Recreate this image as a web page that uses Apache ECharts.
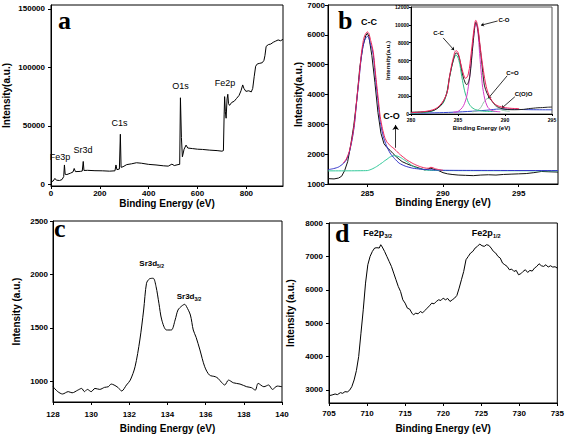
<!DOCTYPE html>
<html><head><meta charset="utf-8">
<script src="https://cdn.jsdelivr.net/npm/echarts@6/dist/echarts.min.js"></script>
<style>html,body{margin:0;padding:0;background:#fff}#c{width:567px;height:436px}</style>
</head><body><div id="c"></div>
<script>
// ---------- Panel a: survey ----------
const surveyE = [0,8,16,22,35,45,52,55,58,65,80,90,95,100,120,128,132,135,150,180,210,240,262,266,270,280,284,287,295,310,330,350,370,400,430,460,480,495,505,520,527,530,534,538,545,553,560,580,600,620,650,680,700,706,709,711,714,717,721,724,727,731,740,750,760,770,778,785,790,798,810,820,826,832,838,845,855,865,872,876,881,890,900,910,920,930,940,950];
const surveyI = [2200,2600,5000,3500,3200,4000,6500,16500,8500,8300,9500,10500,13500,10800,11000,11300,19500,11800,11900,11600,11500,11200,11500,16500,12500,13000,42800,14500,15000,16800,17500,18400,18000,17000,16500,15800,15500,17200,16000,16800,17000,74000,40000,23500,30000,33500,31000,30500,30000,29800,29200,28800,28300,28800,60000,75000,62000,56500,73000,77000,69000,67500,70000,71000,73500,76000,80000,85000,82000,79500,80000,79000,82000,92000,101000,103000,103500,104000,106000,110000,118000,119500,120000,121500,122500,123500,122800,124000];
const aXTicks = [0,200,400,600,800];
const aYTicks = [0,50000,100000,150000];

// ---------- Panel b: C1s ----------
const bRawE = [282.4,282.8,283.1,283.3,283.5,283.7,283.9,284.1,284.3,284.5,284.7,284.9,285.0,285.1,285.3,285.5,285.7,285.9,286.1,286.3,286.5,286.7,286.9,287.1,287.3,287.6,287.9,288.2,288.5,288.8,289.0,289.2,289.4,289.7,290.0,290.3,290.6,291,291.5,292,292.5,293,293.5,294,294.5,295,295.5,296,296.5,297,297.6];
const bRawI = [1180,1170,1200,1260,1450,1750,2300,2950,3800,4900,5600,5980,6050,5950,5300,4400,3400,2700,2350,2220,2130,2020,1920,1830,1750,1680,1620,1570,1520,1470,1500,1530,1490,1450,1380,1340,1320,1300,1290,1280,1300,1310,1300,1320,1330,1340,1350,1380,1420,1410,1400];
const bCCE = [282.4,282.8,283.1,283.4,283.6,283.8,284.0,284.15,284.3,284.45,284.6,284.75,284.85,285.0,285.1,285.2,285.3,285.4,285.55,285.7,285.85,286.05,286.25,286.5,286.8,287.1,287.5,288,288.5,289,290,292,297.6];
const bCCI = [1480,1520,1570,1680,1800,2050,2500,3000,3800,4500,5250,5700,5850,5950,5900,5700,5550,5300,4500,3800,3100,2600,2300,2040,1850,1700,1600,1530,1500,1480,1460,1455,1450];
const bCOE = [282.4,285,285.3,285.6,285.8,286.0,286.15,286.3,286.45,286.6,286.8,286.95,287.1,287.25,287.4,287.55,287.7,287.85,288.0,288.25,288.5,289,290,297.6];
const bCOI = [1440,1450,1500,1580,1650,1720,1780,1830,1890,1930,1950,1940,1910,1870,1820,1770,1720,1660,1600,1540,1500,1460,1450,1440];
const bSumE = [283.4,283.6,283.8,284.0,284.15,284.3,284.45,284.6,284.75,284.85,285.0,285.1,285.2,285.3,285.4,285.55,285.7,285.85,286.0,286.15,286.3,286.45,286.6,286.75,286.9,287.05,287.2,287.4,287.6,287.8,288.0,288.25,288.5,288.7,288.9,289.05,289.2,289.35,289.5,289.75,290];
const bSumI = [1700,1830,2080,2550,3050,3850,4550,5350,5850,6000,6100,6050,5850,5650,5400,4650,3950,3250,2850,2560,2400,2320,2250,2190,2120,2040,1970,1890,1810,1750,1690,1630,1580,1550,1530,1530,1560,1540,1510,1480,1460];
const bXTicks = [285,290,295];
const bYTicks = [1000,2000,3000,4000,5000,6000,7000];

// ---------- Panel b inset ----------
const iRawE = [280,281,281.8,282.5,283.2,283.8,284.1,284.5,284.8,285.0,285.2,285.5,285.8,285.95,286.25,286.6,286.9,287.1,287.5,287.8,288.1,288.4,288.8,289.2,289.7,290.3,291,292,292.5,293,293.5,294,294.5,295];
const iRawI = [200,230,270,450,1000,2310,4170,6040,6850,6700,6040,4360,3400,3300,4170,7900,10300,9600,6040,3240,2300,1750,1200,820,600,500,480,520,600,650,700,720,760,780];
const iSumE = [280,282,283,283.8,284.1,284.5,284.8,285.0,285.3,285.6,285.8,286.1,286.4,286.7,286.9,287.1,287.4,287.7,288.0,288.3,288.6,289,289.6,290.5,291.5];
const iSumI = [150,380,900,2300,4200,6300,7100,6900,5600,4400,4000,4500,6800,9500,10500,9800,7200,4900,3100,2100,1500,1050,800,650,600];
const iCCE = [280,282,283,283.6,284.1,284.5,284.8,285.1,285.4,285.7,285.9,286.2,286.6,287.2,288,289];
const iCCI = [100,250,800,1600,4100,6000,6600,6000,4200,2600,1900,1100,640,400,300,280];
const iCOE = [284.5,285.1,285.7,286.1,286.4,286.7,286.9,287.1,287.3,287.5,287.7,288.1,288.6,289.5];
const iCOI = [200,350,1200,3050,5800,9000,10140,9300,6800,4300,2500,900,400,250];
const iCdOE = [286.5,287.0,287.4,287.8,288.2,288.6,289.0,289.5,290.5];
const iCdOI = [250,350,700,1400,1750,1500,900,500,300];
const iCOOE = [280,282,284,286,288,289.5,291,293,295];
const iCOOI = [80,120,180,280,420,560,520,480,470];
const iXTicks = [280,285,290,295];
const iYTicks = [0,2000,4000,6000,8000,10000,12000];

// ---------- Panel c: Sr3d ----------
const cE = [128,128.25,128.5,128.8,129.0,129.3,129.5,129.65,129.8,130.0,130.2,130.45,130.7,130.9,131.05,131.2,131.4,131.6,131.85,132.05,132.3,132.55,132.75,132.9,133.05,133.25,133.4,133.55,133.7,133.95,134.2,134.4,134.55,134.75,134.9,135.0,135.2,135.35,135.5,135.7,135.95,136.2,136.5,136.65,136.85,137.0,137.2,137.45,137.8,138.15,138.4,138.6,138.75,139.05,139.3,139.5,139.75,140.0];
const cI = [949,903,881,903,892,917,933,903,924,903,933,924,943,949,974,965,943,909,965,1011,1136,1386,1667,1917,1958,1964,1886,1730,1574,1480,1480,1574,1667,1705,1720,1698,1620,1480,1411,1293,1136,1058,1043,1027,986,965,1011,986,974,949,940,917,980,949,965,924,955,949];
const cXTicks = [128,130,132,134,136,138,140];
const cYTicks = [1000,1500,2000,2500];

// ---------- Panel d: Fe2p ----------
const dE = [705,705.4,705.8,706.1,706.5,706.8,707.1,707.4,707.7,708.0,708.3,708.6,708.9,709.2,709.5,709.8,710.1,710.4,710.7,711.0,711.3,711.6,711.8,712.0,712.3,712.6,712.9,713.2,713.5,713.8,714.1,714.4,714.7,715.0,715.3,715.6,715.9,716.1,716.4,716.7,717.0,717.3,717.6,717.9,718.2,718.5,718.8,719.1,719.4,719.7,720.0,720.3,720.6,720.9,721.2,721.5,721.8,722.1,722.4,722.7,723.0,723.3,723.6,723.9,724.2,724.5,724.8,725.1,725.4,725.7,726.0,726.3,726.6,726.9,727.2,727.5,727.8,728.1,728.4,728.7,729.0,729.3,729.6,729.9,730.2,730.5,730.8,731.1,731.4,731.7,732.0,732.3,732.6,732.9,733.2,733.5,733.8,734.1,734.4,734.7,735.0];
const dI = [2830,2850,2880,2860,2920,2900,2950,2940,2990,3100,3300,3580,4000,4700,5400,6200,6750,7000,7150,7250,7260,7250,7350,7280,7150,7000,6850,6700,6500,6300,6100,5950,5700,5600,5450,5420,5300,5250,5300,5280,5350,5310,5380,5450,5520,5600,5580,5650,5700,5680,5750,5700,5740,5650,5700,5750,5830,6050,6300,6550,6900,7000,7100,7150,7250,7300,7370,7320,7300,7350,7330,7250,7150,7100,7000,6950,6800,6750,6700,6600,6620,6550,6580,6450,6480,6550,6600,6520,6580,6560,6650,6700,6780,6720,6700,6750,6680,6720,6680,6690,6650];
const dXTicks = [705,710,715,720,725,730,735];
const dYTicks = [3000,4000,5000,6000,7000,8000];

// ---------------------------------------------------
const zip = (a, b) => a.map((v, i) => [v, b[i]]);
const FONT = '"Liberation Sans", Arial, sans-serif';
const SERIF = '"Liberation Serif", "Times New Roman", serif';

function axis(o) {
  return {
    type: 'value', gridIndex: o.g, min: o.min, max: o.max,
    axisLine: { show: true, onZero: false, lineStyle: { color: '#000', width: 1 } },
    axisTick: { show: true, inside: false, length: o.tl || 3, customValues: o.ticks, lineStyle: { color: '#000' } },
    axisLabel: { customValues: o.ticks, formatter: v => String(v), fontSize: o.fs || 8, fontWeight: 'bold', color: '#000', fontFamily: FONT, margin: o.margin || 4 },
    splitLine: { show: false },
    name: o.name, nameLocation: 'middle', nameGap: o.gap,
    nameTextStyle: { fontSize: o.nfs || 10, fontWeight: 'bold', color: '#000', fontFamily: FONT }
  };
}
function line(xi, data, color, extra) {
  return Object.assign({
    type: 'line', xAxisIndex: xi, yAxisIndex: xi, data: data, symbol: 'none', showSymbol: false,
    lineStyle: { color: color, width: 1 }, itemStyle: { color: color }, silent: true
  }, extra || {});
}
function arrow(coords, size) {
  return {
    silent: true, symbol: ['none', 'arrow'], symbolSize: size || 5, animation: false,
    lineStyle: { color: '#000', width: 0.8, type: 'solid' }, label: { show: false },
    emphasis: { disabled: true },
    data: coords.map(c => [{ coord: c[0] }, { coord: c[1] }])
  };
}
function txt(s, x, y, size, weight, family, align) {
  return { type: 'text', silent: true, z: 50, style: { text: s, x: x, y: y, font: (weight || 'normal') + ' ' + size + 'px ' + (family || FONT), fill: '#000', textAlign: align || 'left', textVerticalAlign: 'middle' } };
}

const chart = echarts.init(document.getElementById('c'), null, { renderer: 'svg' });
chart.setOption({
  animation: false,
  backgroundColor: '#fff',
  grid: [
    { left: 51, top: 5, width: 232, height: 181, show: true, borderColor: '#000', borderWidth: 1 },
    { left: 328, top: 5, width: 230, height: 179, show: true, borderColor: '#000', borderWidth: 1 },
    { left: 411, top: 7, width: 141, height: 107, show: true, borderColor: '#555', borderWidth: 1, backgroundColor: '#fff', z: 5 },
    { left: 53, top: 221, width: 229, height: 181, show: true, borderColor: '#000', borderWidth: 1 },
    { left: 329, top: 223, width: 229, height: 180, show: true, borderColor: '#000', borderWidth: 1 }
  ],
  xAxis: [
    axis({ g: 0, min: 0, max: 950, ticks: aXTicks, name: 'Binding Energy (eV)', gap: 12, margin: 3 }),
    axis({ g: 1, min: 282.4, max: 297.6, ticks: bXTicks, name: 'Binding Energy (eV)', gap: 13, margin: 5 }),
    Object.assign(axis({ g: 2, min: 280, max: 295, ticks: iXTicks, name: 'Binding Energy (eV)', gap: 11, margin: 3, fs: 5, nfs: 6, tl: 2 }), { z: 6 }),
    axis({ g: 3, min: 128, max: 140, ticks: cXTicks, name: 'Binding Energy (eV)', gap: 21, margin: 8 }),
    axis({ g: 4, min: 705, max: 735, ticks: dXTicks, name: 'Binding Energy (eV)', gap: 20, margin: 6 })
  ],
  yAxis: [
    axis({ g: 0, min: -1500, max: 153400, ticks: aYTicks, name: 'Intensity(a.u.)', gap: 40, margin: 6 }),
    axis({ g: 1, min: 1000, max: 7000, ticks: bYTicks, name: 'Intensity(a.u.)', gap: 23, margin: 3 }),
    Object.assign(axis({ g: 2, min: 0, max: 12000, ticks: iYTicks, name: 'Intensity(a.u.)', gap: 17, margin: 2, fs: 5, nfs: 6, tl: 2 }), { z: 6 }),
    axis({ g: 3, min: 806, max: 2500, ticks: cYTicks, name: 'Intensity (a.u.)', gap: 32, margin: 5 }),
    axis({ g: 4, min: 2610, max: 8000, ticks: dYTicks, name: 'Intensity (a.u.)', gap: 34, margin: 6 })
  ],
  series: [
    line(0, zip(surveyE, surveyI), '#000'),
    line(1, zip(bRawE, bRawI), '#111', { z: 2 }),
    line(1, zip(bCOE, bCOI), '#33c99a', { smooth: 0.2, z: 3 }),
    line(1, zip(bCCE, bCCI), '#3434c8', { smooth: 0.2, z: 3 }),
    line(1, zip(bSumE, bSumI), '#ee2255', { smooth: 0.2, z: 4,
      markLine: arrow([[[286.87, 2213], [286.87, 2980]]], 5) }),
    line(2, zip(iCOOE, iCOOI), '#3344cc', { smooth: 0.4, z: 7 }),
    line(2, zip(iCdOE, iCdOI), '#8fc4a8', { smooth: 0.4, z: 7 }),
    line(2, zip(iCCE, iCCI), '#2ec28a', { smooth: 0.4, z: 7 }),
    line(2, zip(iCOE, iCOI), '#d63cc8', { smooth: 0.4, z: 7 }),
    line(2, zip(iRawE, iRawI), '#222', { smooth: 0.3, z: 8 }),
    line(2, zip(iSumE, iSumI), '#f0205a', { smooth: 0.4, z: 9,
      markLine: arrow([
        [[283.42, 8533], [284.59, 7157]],
        [[289.22, 10434], [287.45, 9953]],
        [[290.23, 4283], [288.22, 1756]],
        [[291.05, 1935], [289.64, 637]]
      ], 3) }),
    line(3, zip(cE, cI), '#000', { smooth: 0.3 }),
    line(4, zip(dE, dI), '#000')
  ],
  graphic: [
    txt('a', 58, 20, 26, 'bold', SERIF),
    txt('b', 338, 20, 26, 'bold', SERIF),
    txt('c', 54, 228, 26, 'bold', SERIF),
    txt('d', 335, 233, 26, 'bold', SERIF),
    txt('Fe3p', 60, 157, 9, 'normal', FONT, 'center'),
    txt('Sr3d', 83, 150, 9, 'normal', FONT, 'center'),
    txt('C1s', 119.5, 123, 9, 'normal', FONT, 'center'),
    txt('O1s', 180.5, 86, 9, 'normal', FONT, 'center'),
    txt('Fe2p', 225, 83, 9, 'normal', FONT, 'center'),
    txt('C-C', 369, 22, 9, 'bold', FONT, 'center'),
    txt('C-O', 391.5, 116, 9, 'bold', FONT, 'center'),
    txt('C-C', 438.5, 33, 6, 'bold', FONT, 'center'),
    txt('C-O', 504, 20, 6, 'bold', FONT, 'center'),
    txt('C=O', 512.5, 73, 6, 'bold', FONT, 'center'),
    txt('C(O)O', 523.5, 94, 6, 'bold', FONT, 'center'),
    txt('Sr3d', 139.3, 263, 8, 'bold', FONT),
    txt('5/2', 157, 266, 5, 'bold', FONT),
    txt('Sr3d', 176.7, 296, 8, 'bold', FONT),
    txt('3/2', 194.4, 299, 5, 'bold', FONT),
    txt('Fe2p', 363.3, 233, 9, 'bold', FONT),
    txt('3/2', 384.5, 236, 5.5, 'bold', FONT),
    txt('Fe2p', 471.7, 233, 9, 'bold', FONT),
    txt('1/2', 492.9, 236, 5.5, 'bold', FONT)
  ]
});
</script>
</body></html>
